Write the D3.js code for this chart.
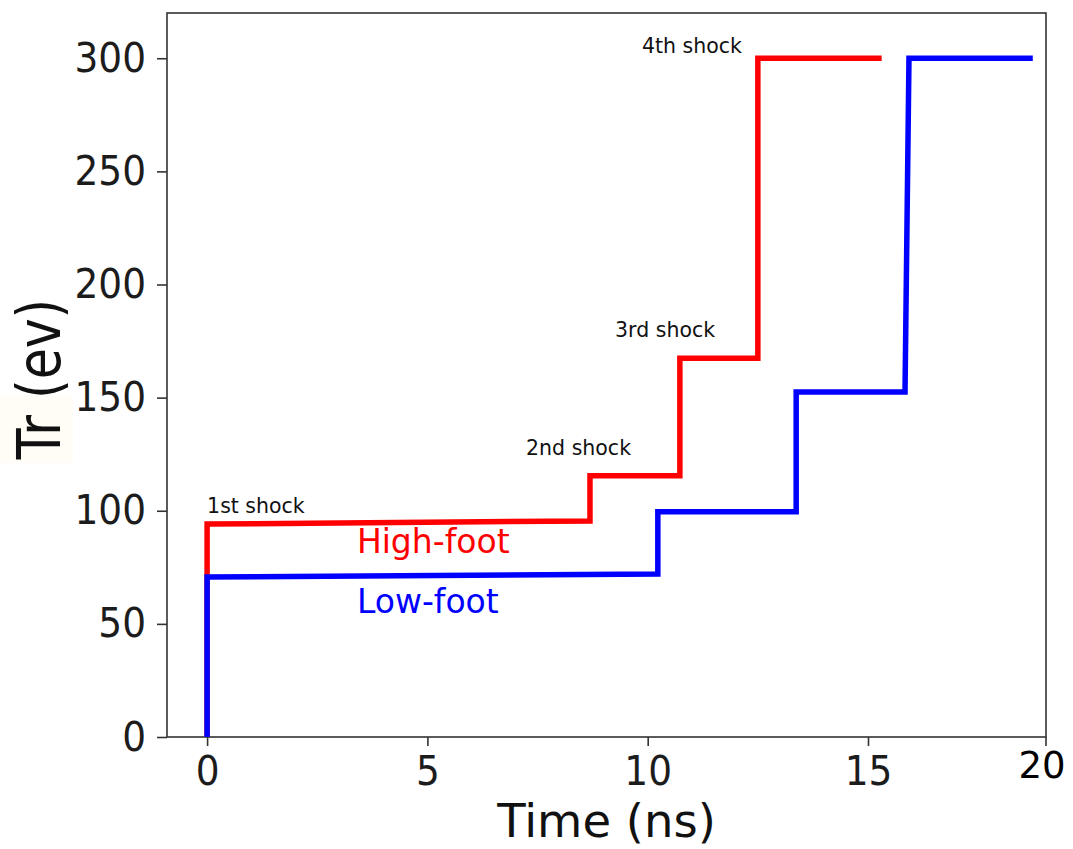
<!DOCTYPE html>
<html>
<head>
<meta charset="utf-8">
<script src="https://cdn.jsdelivr.net/npm/d3@7"></script>
<style>
  html, body { margin: 0; padding: 0; background: #ffffff; }
  svg { display: block; font-family: "DejaVu Sans", sans-serif; }
</style>
</head>
<body>
<svg id="chart" width="1073" height="849"></svg>
<script>
// Radiation temperature drive profiles (time in ns, Tr in eV)
const highFootTime = [0, 0, 8.69, 8.69, 10.73, 10.73, 12.50, 12.50, 15.31];
const highFootTr   = [0, 94.1, 95.5, 115.5, 115.5, 167.4, 167.4, 300, 300];

const lowFootTime  = [0, 0, 10.23, 10.23, 13.37, 13.37, 15.84, 15.93, 18.74];
const lowFootTr    = [0, 70.7, 72.0, 99.6, 99.6, 152.5, 152.5, 300, 300];

// Shock labels placed at (time, Tr)
const shockNames = ["1st shock", "2nd shock", "3rd shock", "4th shock"];
const shockTime  = [0.0, 7.24, 9.26, 9.87];
const shockTr    = [99.0, 124.6, 176.8, 302.3];

// Series labels
const seriesNames = ["High-foot", "Low-foot"];
const seriesTime  = [3.40, 3.40];
const seriesTr    = [81.3, 54.8];

const xTicks = [0, 5, 10, 15];
const yTicks = [0, 50, 100, 150, 200, 250, 300];
const xEdgeLabel = "20";

const svg = d3.select("#chart");
const plotLeft = 167, plotRight = 1046, plotTop = 13, plotBottom = 737;

const x = d3.scaleLinear().domain([-0.91, 19.04]).range([plotLeft, plotRight]);
const y = d3.scaleLinear().domain([0, 320]).range([plotBottom, plotTop]);

const axisColor = "#333333";
const tickTextColor = "#1c1c1c";

// faint backdrop behind the axis title
svg.append("rect")
  .attr("x", 0).attr("y", 395).attr("width", 73).attr("height", 68)
  .attr("fill", "#fffdf5");

// frame
svg.append("rect")
  .attr("x", plotLeft).attr("y", plotTop)
  .attr("width", plotRight - plotLeft).attr("height", plotBottom - plotTop)
  .attr("fill", "none").attr("stroke", axisColor).attr("stroke-width", 1.6);

// axes
const yAxis = d3.axisLeft(y).tickValues(yTicks).tickSize(10).tickPadding(11).tickFormat(d3.format("d"));
const xAxis = d3.axisBottom(x).tickValues(xTicks).tickSize(9).tickPadding(8).tickFormat(d3.format("d"));

const gy = svg.append("g").attr("transform", `translate(${plotLeft},0)`).call(yAxis);
const gx = svg.append("g").attr("transform", `translate(0,${plotBottom})`).call(xAxis);

[gx, gy].forEach(g => {
  g.select(".domain").remove();
  g.selectAll(".tick line").attr("stroke", axisColor).attr("stroke-width", 1.6);
  g.selectAll(".tick text")
    .attr("fill", tickTextColor)
    .attr("transform", "scale(1,1.09)")
    .style("font-family", "'DejaVu Sans', sans-serif")
    .style("font-size", "37.5px");
});

// tick at the right end of the time axis and its label
svg.append("line")
  .attr("x1", x(19.04)).attr("x2", x(19.04))
  .attr("y1", plotBottom).attr("y2", plotBottom + 9)
  .attr("stroke", axisColor).attr("stroke-width", 1.6);
svg.append("text")
  .attr("x", x(19.04) - 4).attr("y", 778)
  .attr("text-anchor", "middle")
  .attr("fill", "#000000")
  .style("font-size", "37px")
  .text(xEdgeLabel);

// axis titles
svg.append("text")
  .attr("x", (plotLeft + plotRight) / 2).attr("y", 837)
  .attr("text-anchor", "middle")
  .attr("fill", "#111111")
  .style("font-size", "46.5px")
  .text("Time (ns)");

svg.append("text")
  .attr("transform", `translate(60,${(295 + 463) / 2}) rotate(-90) scale(1,1.18)`)
  .attr("text-anchor", "middle")
  .attr("fill", "#111111")
  .style("font-size", "50.5px")
  .text("Tr (ev)");

// step profiles
const line = d3.line().x(d => x(d[0])).y(d => y(d[1]));
const highFoot = d3.zip(highFootTime, highFootTr);
const lowFoot = d3.zip(lowFootTime, lowFootTr);

svg.append("path")
  .datum(highFoot)
  .attr("d", line)
  .attr("fill", "none").attr("stroke", "#ff0000")
  .attr("stroke-width", 5.5).attr("stroke-linejoin", "miter").attr("stroke-linecap", "butt");

svg.append("path")
  .datum(lowFoot)
  .attr("d", line)
  .attr("fill", "none").attr("stroke", "#0000ff")
  .attr("stroke-width", 5.5).attr("stroke-linejoin", "miter").attr("stroke-linecap", "butt");

// shock annotations
svg.selectAll("text.shock")
  .data(d3.zip(shockNames, shockTime, shockTr))
  .join("text")
  .attr("class", "shock")
  .attr("x", d => x(d[1])).attr("y", d => y(d[2]))
  .attr("fill", "#111111")
  .style("font-size", "20.5px")
  .text(d => d[0]);

// series labels
const seriesColors = ["#ff0000", "#0000ff"];
svg.selectAll("text.series")
  .data(d3.zip(seriesNames, seriesTime, seriesTr, seriesColors))
  .join("text")
  .attr("class", "series")
  .attr("x", d => x(d[1])).attr("y", d => y(d[2]))
  .attr("fill", d => d[3])
  .style("font-size", "33px")
  .text(d => d[0]);
</script>
</body>
</html>
